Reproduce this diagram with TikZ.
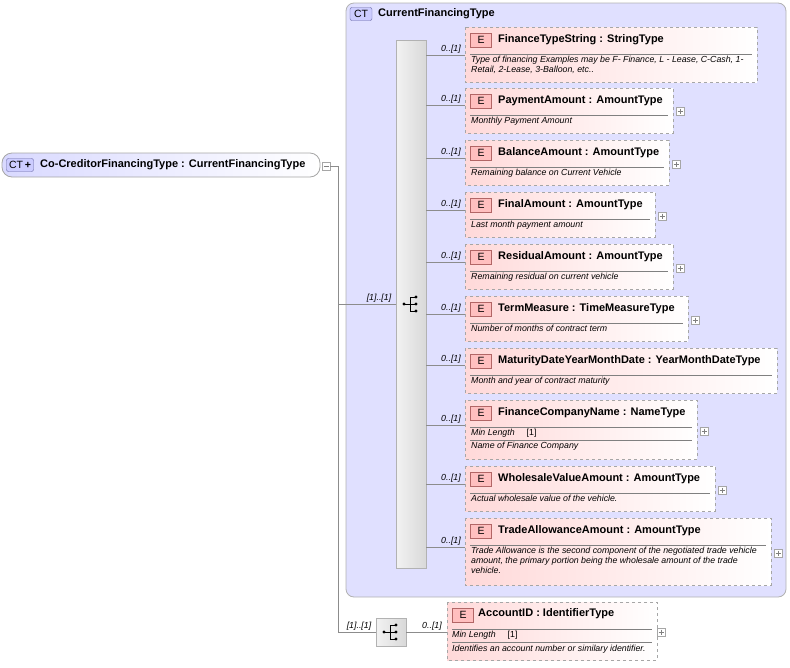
\documentclass[tikz,border=0pt]{standalone}
\usepackage{fontspec}
\setmainfont{Liberation Sans}
\begin{document}
\begin{tikzpicture}[x=1pt,y=-1pt,
  elbox/.style={draw=black!35,dashed,left color=red!15,right color=white,line width=0.8pt},
  ebadge/.style={draw=red!50!black!60,fill=red!25,inner sep=0pt,minimum width=21pt,minimum height=14pt,font=\fontsize{10.5}{11}\selectfont},
  ttl/.style={anchor=west,inner sep=0pt,font=\fontsize{11}{13}\bfseries\selectfont},
  doc/.style={anchor=north west,inner sep=0pt,font=\fontsize{8.8}{10.2}\itshape\selectfont,align=left},
  card/.style={anchor=south,inner sep=0pt,font=\fontsize{8.8}{10}\itshape\selectfont},
  conn/.style={draw=black!45,line width=0.6pt},
  plusbox/.style={draw=black!35,fill=white,minimum size=8pt,inner sep=0pt},
]
\useasboundingbox (0,0) rectangle (790,667);
% container
\draw[draw=black!30,fill=blue!12,rounded corners=8pt,line width=0.8pt] (346,3) rectangle (786,597);
\node[draw=blue!40!black!60,fill=blue!20,rounded corners=2pt,inner sep=1pt,minimum width=22pt,minimum height=13pt,font=\fontsize{10.5}{11}\selectfont] (ctb) at (361,14) {CT};
\node[ttl] (ctt) at (378,13.5) {CurrentFinancingType};
% root
\draw[draw=black!35,left color=blue!15,right color=white,rounded corners=10pt,line width=0.8pt] (2,153) rectangle (320,177);
\node[draw=blue!40!black!60,fill=blue!20,rounded corners=2pt,inner sep=1pt,minimum width=27pt,minimum height=13pt,font=\fontsize{10.5}{11}\selectfont] (rootb) at (20,165) {CT\,\textbf{+}};
\node[ttl] (root) at (40,164.5) {Co-CreditorFinancingType : CurrentFinancingType};
\node[plusbox] (rminus) at (326,166) {};
\draw[black!50] (323.5,166)--(328.5,166);
% sequence bar
\draw[draw=black!30,left color=black!5,right color=black!15] (396,40) rectangle (426,568);
\node (seq) at (411,304) {};
\fill (404,304) circle (1.6pt); \draw (404,304)--(410,304);
\draw (410,297)--(410,311); \foreach \yy in {297,304,311}{\draw (410,\yy)--(415,\yy); \fill (416,\yy) circle (1.6pt);}
% second sequence
\draw[draw=black!30,left color=black!5,right color=black!15] (376,618) rectangle (406,646);
\node (seq2) at (391,632) {};
\fill (384,632) circle (1.6pt); \draw (384,632)--(390,632);
\draw (390,625)--(390,639); \foreach \yy in {625,632,639}{\draw (390,\yy)--(395,\yy); \fill (396,\yy) circle (1.6pt);}
% main connectors
\coordinate (j1) at (338,166);
\coordinate (j2) at (338,632);
\draw[conn] (rminus.east) -- (j1) -- (j2) -- (376,632);
\draw[conn] (338,304) -- (396,304);
\node[card] (c0) at (379,303) {[1]..[1]};
\node[card] (c00) at (359,631) {[1]..[1]};
\draw[conn] (406,632) -- (447,632);
\node[card] (c01) at (432,631) {0..[1]};
% element macro
\newcommand{\myel}[9]{%
  \draw[elbox] (465,#2) rectangle (#4,#3);
  \node[ebadge] (#1b) at (481,#2+13) {E};
  \node[ttl] (#1) at (498,#2+12.5) {#6};
  \ifnum#9=1
    \node[doc,font=\fontsize{8.8}{10}\selectfont] (#1m) at (471,#2+29) {\textit{Min Length}\hspace{12pt}[1]};
    \draw[black!50] (470,#2+27)--(#4-5,#2+27);
    \draw[black!50] (470,#2+40)--(#4-5,#2+40);
    \node[doc] (#1d) at (471,#2+42) {#8};
  \else
    \draw[black!50] (470,#2+27)--(#4-5,#2+27);
    \node[doc] (#1d) at (471,#2+29) {#8};
  \fi
  \draw[conn] (426,#5) -- (465,#5);
  \node[card] at (451,#5-1) {0..[1]};
  \ifnum#7=1 \node[plusbox] at (#4+7,#5+6) {}; \draw[black!50] (#4+4.5,#5+6)--(#4+9.5,#5+6) (#4+7,#5+3.5)--(#4+7,#5+8.5);\fi
}
\myel{e1}{27}{82}{757}{55}{FinanceTypeString : StringType}{0}{Type of financing Examples may be F- Finance, L - Lease, C-Cash, 1-\\Retail, 2-Lease, 3-Balloon, etc..}{0}
\myel{e2}{88}{133}{673}{105}{PaymentAmount : AmountType}{1}{Monthly Payment Amount}{0}
\myel{e3}{140}{185}{669}{158}{BalanceAmount : AmountType}{1}{Remaining balance on Current Vehicle}{0}
\myel{e4}{192}{237}{655}{210}{FinalAmount : AmountType}{1}{Last month payment amount}{0}
\myel{e5}{244}{289}{673}{262}{ResidualAmount : AmountType}{1}{Remaining residual on current vehicle}{0}
\myel{e6}{296}{341}{688}{314}{TermMeasure : TimeMeasureType}{1}{Number of months of contract term}{0}
\myel{e7}{348}{393}{777}{365}{MaturityDateYearMonthDate : YearMonthDateType}{0}{Month and year of contract maturity}{0}
\myel{e8}{400}{459}{697}{425}{FinanceCompanyName : NameType}{1}{Name of Finance Company}{1}
\myel{e9}{466}{511}{715}{484}{WholesaleValueAmount : AmountType}{1}{Actual wholesale value of the vehicle.}{0}
\myel{e10}{518}{585}{771}{547}{TradeAllowanceAmount : AmountType}{1}{Trade Allowance is the second component of the negotiated trade vehicle\\amount, the primary portion being the wholesale amount of the trade\\vehicle.}{0}
% AccountID
\draw[elbox] (447,602) rectangle (657,660);
\node[ebadge] (ab) at (463,615) {E};
\node[ttl] (acc) at (478,614) {AccountID : IdentifierType};
\draw[black!50] (452,629)--(652,629);
\node[doc,font=\fontsize{8.8}{10}\selectfont] (am) at (452,631) {\textit{Min Length}\hspace{12pt}[1]};
\draw[black!50] (452,642)--(652,642);
\node[doc] (ad) at (452,645) {Identifies an account number or similary identifier.};
\node[plusbox] at (661,632) {}; \draw[black!50] (658.5,632)--(663.5,632) (661,629.5)--(661,634.5);
\end{tikzpicture}
\end{document}
